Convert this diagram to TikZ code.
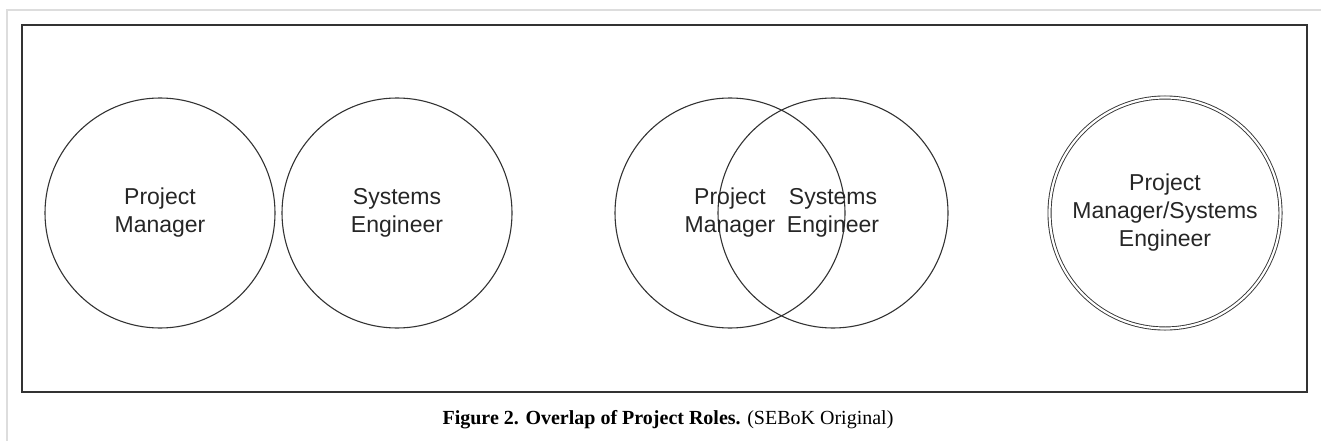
\documentclass[tikz,border=0pt]{standalone}
\usepackage{fontspec}
\setmainfont{Liberation Serif}
\newfontfamily\labelfont{Liberation Sans}
\usetikzlibrary{positioning}

\definecolor{framegray}{HTML}{DDDDDD}
\definecolor{inkgray}{HTML}{333333}

\begin{document}
\begin{tikzpicture}[
    x=1pt, y=-1pt,
    % role circles (pixel scale of the reference)
    role/.style={circle, draw=inkgray, line width=1.1pt, minimum size=230pt, inner sep=0pt, outer sep=0pt,
                 align=center, text=black!85, font=\labelfont\fontsize{23}{28}\selectfont},
    merged/.style={role, minimum size=231pt, double, double distance=2.2pt, line width=0.9pt},
    rolebox/.style={draw=inkgray, line width=1.4pt},
    caption/.style={font=\fontsize{20}{24}\selectfont, text=black}
]
\useasboundingbox (0,0) rectangle (1321,441);

% page frame (top and left edges only)
\draw[framegray, line width=2pt] (7,441) -- (7,10) -- (1321,10);

% figure box
\draw[rolebox] (22,25) rectangle (1307,392);

% separate roles
\node[role] (pm) at (160,213) {Project\\Manager};
\node[role] (se) at (397,213) {Systems\\Engineer};

% overlapping roles
\node[role] (pmo) at (730,213) {};
\node[role] (seo) at (833,213) {};
\node[align=center, text=black!85, font=\labelfont\fontsize{23}{28}\selectfont] (pmolabel) at (pmo.center) {Project\\Manager};
\node[align=center, text=black!85, font=\labelfont\fontsize{23}{28}\selectfont] (seolabel) at (seo.center) {Systems\\Engineer};

% combined role
\node[merged] (pmse) at (1165,213) {Project\\Manager/Systems\\Engineer};

% caption
\node[caption] (cap) at (668,420) {\textbf{Figure 2. Overlap of Project Roles.} (SEBoK Original)};

\end{tikzpicture}
\end{document}
